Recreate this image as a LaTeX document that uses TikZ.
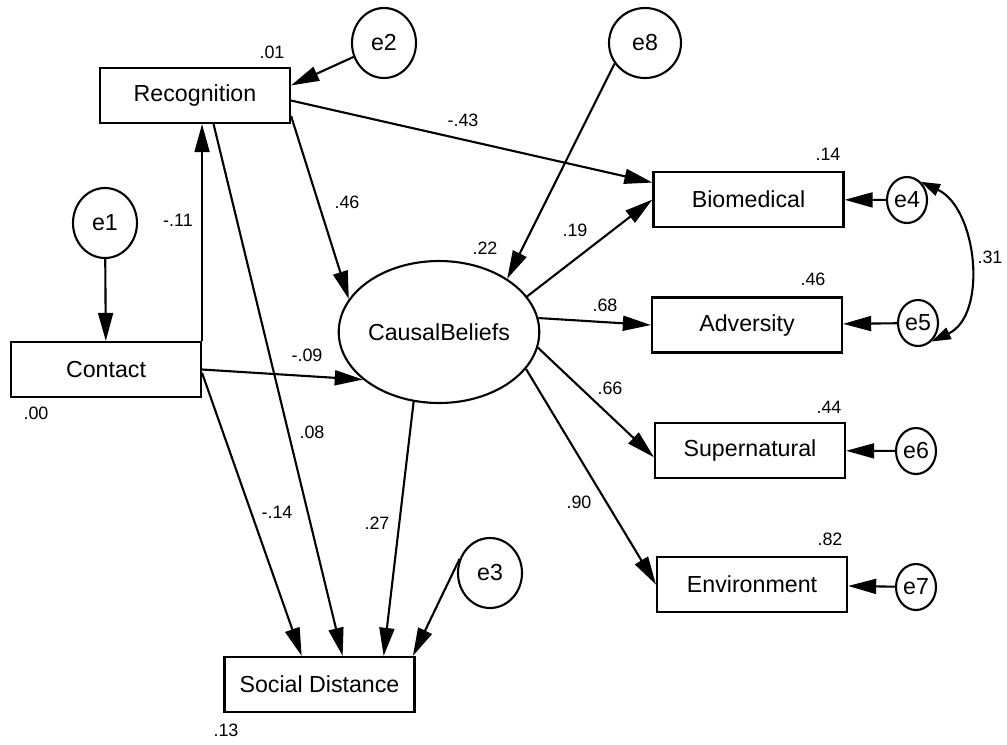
\documentclass[tikz,border=0pt]{standalone}
\usepackage{fontspec}
\setmainfont{Liberation Sans}
\usetikzlibrary{arrows.meta,shapes.geometric}

\tikzset{
  obs/.style={draw,rectangle,minimum width=3.8cm,minimum height=1.1cm,inner sep=0pt,font=\fontsize{13.2}{15}\selectfont},
  latent/.style={draw,ellipse,minimum width=3.44cm,minimum height=2.84cm,inner sep=0pt,font=\fontsize{13.2}{15}\selectfont},
  err/.style={draw,ellipse,minimum width=1.28cm,minimum height=1.4cm,inner sep=0pt,font=\fontsize{13.2}{15}\selectfont},
  smallerr/.style={draw,ellipse,minimum width=0.8cm,minimum height=0.92cm,inner sep=0pt,font=\fontsize{13.2}{15}\selectfont},
  num/.style={inner sep=0pt,font=\fontsize{10.2}{12}\selectfont}
}

\begin{document}
\begin{tikzpicture}[line width=1.2pt,>={Triangle[length=16pt,width=8.5pt]}]
\useasboundingbox (0,0) rectangle (20.14,-14.88);
% variables
\node[obs] (Recognition) at (3.9,-1.91) {Recognition};
\node[obs] (Contact) at (2.12,-7.39) {Contact};
\node[obs] (SocialDistance) at (6.39,-13.69) {Social Distance};
\node[latent] (CausalBeliefs) at (8.78,-6.64) {CausalBeliefs};
\node[obs] (Biomedical) at (14.97,-3.99) {Biomedical};
\node[obs] (Adversity) at (14.94,-6.5) {Adversity};
\node[obs] (Supernatural) at (15.0,-9.01) {Supernatural};
\node[obs] (Environment) at (15.04,-11.69) {Environment};
% errors
\node[err] (e1) at (2.1,-4.46) {e1};
\node[err] (e2) at (7.68,-0.86) {e2};
\node[err] (e3) at (9.8,-11.46) {e3};
\node[err,minimum width=1.44cm] (e8) at (12.9,-0.86) {e8};
\node[smallerr] (e4) at (18.14,-4.0) {e4};
\node[smallerr] (e5) at (18.36,-6.46) {e5};
\node[smallerr] (e6) at (18.32,-9.02) {e6};
\node[smallerr] (e7) at (18.32,-11.74) {e7};
% squared multiple correlations
\node[num] (r01) at (5.44,-1.04) {.01};
\node[num] (r00) at (0.72,-8.26) {.00};
\node[num] (r13) at (4.52,-14.6) {.13};
\node[num] (r22) at (9.7,-4.96) {.22};
\node[num] (r14) at (16.56,-3.08) {.14};
\node[num] (r46) at (16.26,-5.58) {.46};
\node[num] (r44) at (16.58,-8.14) {.44};
\node[num] (r82) at (16.6,-10.78) {.82};
% path coefficients
\node[num] (p43) at (9.26,-2.4) {-.43};
\node[num] (p11) at (3.56,-4.4) {-.11};
\node[num] (p46) at (6.94,-4.04) {.46};
\node[num] (p09) at (6.14,-7.1) {-.09};
\node[num] (p08) at (6.24,-8.64) {.08};
\node[num] (p14) at (5.54,-10.24) {-.14};
\node[num] (p27) at (7.54,-10.46) {.27};
\node[num] (p19) at (11.5,-4.6) {.19};
\node[num] (p68) at (12.1,-6.1) {.68};
\node[num] (p66) at (12.2,-7.76) {.66};
\node[num] (p90) at (11.58,-10.04) {.90};
\node[num] (p31) at (19.8,-5.14) {.31};
% paths
\draw [->] (e1) -- (Contact);
\draw [->] (e2) -- (Recognition.6);
\draw [->] (Contact.north east) -- (Contact.north east |- Recognition.south);
\draw [->] (Recognition.-12) -- (CausalBeliefs.160);
\draw [->] (Recognition.-3) -- (Biomedical.170);
\draw [->] (Recognition.-57) -- (SocialDistance.51);
\draw [->] (Contact.east) -- (CausalBeliefs.212);
\draw [->] (Contact.-2) -- (SocialDistance.122.5);
\draw [->] (e8.214) -- (CausalBeliefs.38);
\draw [->] (CausalBeliefs.-110) -- (SocialDistance.24);
\draw [->] (e3.155) -- (SocialDistance.17.5);
\draw [->] (CausalBeliefs.22) -- (Biomedical.west);
\draw [->] (CausalBeliefs.8) -- (Adversity.west);
\draw [->] (CausalBeliefs.-9) -- (Supernatural.184);
\draw [->] (CausalBeliefs.-23) -- (Environment.west);
\draw [->] (e4) -- (Biomedical);
\draw [->] (e5) -- (Adversity);
\draw [->] (e6) -- (Supernatural);
\draw [->] (e7) -- (Environment);
\draw [{Triangle[length=11pt,width=7pt]}-{Triangle[length=11pt,width=7pt]}] (e4.53) to[out=-25,in=25] (e5.-54);
\end{tikzpicture}
\end{document}
